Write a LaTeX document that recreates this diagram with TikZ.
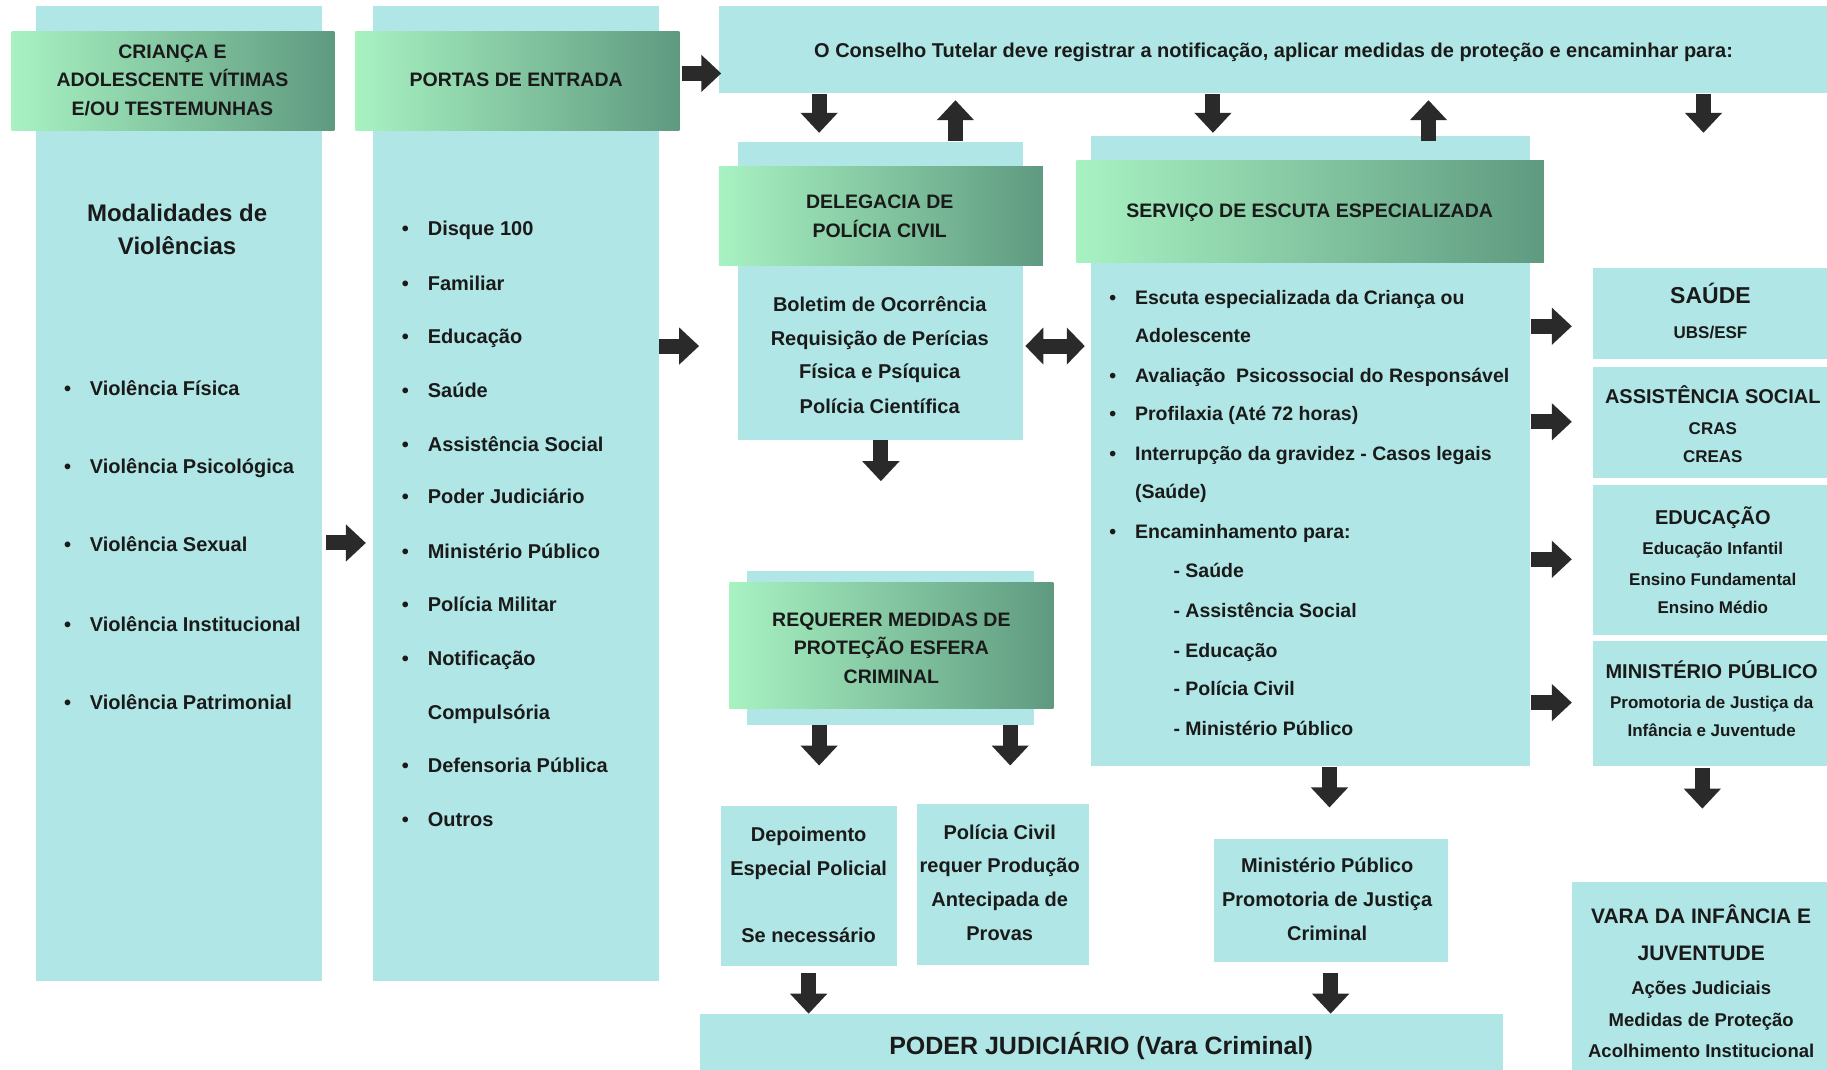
\documentclass[tikz,border=0pt]{standalone}
\usepackage{fontspec}
\setmainfont{Liberation Sans}
\usetikzlibrary{arrows.meta,fit}
\definecolor{boxc}{HTML}{B0E6E5}
\definecolor{hdrL}{HTML}{A8F2C2}
\definecolor{hdrR}{HTML}{5F9A80}
\definecolor{ink}{HTML}{1A1A1A}
\definecolor{arr}{HTML}{2A2A2A}
\newcommand\fs[2]{\fontsize{#1}{#2}\selectfont\bfseries}
\begin{document}
\begin{tikzpicture}[x=1.1652pt,y=-1.1652pt,
 box/.style={fill=boxc, inner sep=0pt, draw=none},
 hdr/.style={left color=hdrL, right color=hdrR, inner sep=0pt},
 txt/.style={inner sep=0pt, text=ink},
 t20/.style={txt, font=\fs{20}{24}, text height=14.3pt, text depth=0pt},
 t195/.style={txt, font=\fs{19.5}{24}, text height=14pt, text depth=0pt},
 t19/.style={txt, font=\fs{20}{24}, text height=14.3pt, text depth=0pt},
 t24/.style={txt, font=\fs{24}{28}, text height=17.2pt, text depth=0pt},
 t23/.style={txt, font=\fs{23}{28}, text height=16.5pt, text depth=0pt},
 t21/.style={txt, font=\fs{21}{26}, text height=15pt, text depth=0pt},
 t185/.style={txt, font=\fs{18.5}{22}, text height=13.2pt, text depth=0pt},
 t17/.style={txt, font=\fs{17}{21}, text height=12.2pt, text depth=0pt},
 t25/.style={txt, font=\fs{25}{30}, text height=17.9pt, text depth=0pt},
 barrow/.style={draw=arr, line width=15pt, -{Triangle[width=36pt,length=20pt]}},
 darrow/.style={draw=arr, line width=15pt, {Triangle[width=36pt,length=18pt]}-{Triangle[width=36pt,length=18pt]}},
]
\useasboundingbox (0,0) rectangle (1568,918);
\fill[white] (0,0) rectangle (1568,918);

% ---------- Column 1
\node[box, fit={(31,5)(276,842)}] (col1) {};
\node[hdr, fit={(10,27)(287,112)}] (h1) {};
\node[t195] (h1a) at (148,44) {CRIANÇA E};
\node[t195] (h1b) at (148,68) {ADOLESCENTE VÍTIMAS};
\node[t195] (h1c) at (148,93) {E/OU TESTEMUNHAS};
\node[t24] (mod1) at (152,183) {Modalidades de};
\node[t24] (mod2) at (152,211) {Violências};
\foreach \t/\y [count=\i] in {Violência Física/333, Violência Psicológica/400, Violência Sexual/467, Violência Institucional/536, Violência Patrimonial/603}{
  \node[t20] (vb\i) at (58,\y) {•};
  \node[t20, anchor=west] (vt\i) at (77,\y) {\t};
}

% ---------- Column 2
\node[box, fit={(320,5)(566,842)}] (col2) {};
\node[hdr, fit={(305,27)(583,112)}] (h2) {};
\node[t195] (h2a) at (443,68) {PORTAS DE ENTRADA};
\foreach \t/\y [count=\i] in {Disque 100/196, Familiar/243, Educação/289, Saúde/335, Assistência Social/381, Poder Judiciário/426, Ministério Público/473, Polícia Militar/519, Notificação/565, Defensoria Pública/657, Outros/703}{
  \node[t20] (pb\i) at (348,\y) {•};
  \node[t20, anchor=west] (pt\i) at (367,\y) {\t};
}
\node[t20, anchor=west] (ptc) at (367,611) {Compulsória};

% ---------- Conselho Tutelar
\node[box, fit={(617,5)(1568,80)}] (cons) {};
\node[t19] (consT) at (1093,43) {O Conselho Tutelar deve registrar a notificação, aplicar medidas de proteção e encaminhar para:};

% ---------- Delegacia
\node[box, fit={(633,122)(878,378)}] (del) {};
\node[hdr, fit={(617,143)(895,228)}] (delH) {};
\node[t195] (delHa) at (755,173) {DELEGACIA DE};
\node[t195] (delHb) at (755,198) {POLÍCIA CIVIL};
\node[t20] (d1) at (755,261) {Boletim de Ocorrência};
\node[t20] (d2) at (755,290) {Requisição de Perícias};
\node[t20] (d3) at (755,319) {Física e Psíquica};
\node[t20] (d4) at (755,349) {Polícia Científica};

% ---------- Serviço de Escuta
\node[box, fit={(936,117)(1313,657)}] (ser) {};
\node[hdr, fit={(924,138)(1325,225)}] (serH) {};
\node[t195] (serHa) at (1124,181) {SERVIÇO DE ESCUTA ESPECIALIZADA};
\foreach \y in {255,322,355,389,456}{
  \node[t195] (sb\y) at (955,\y) {•};
}
\node[t195, anchor=west] (s1) at (974,255) {Escuta especializada da Criança ou};
\node[t195, anchor=west] (s2) at (974,288) {Adolescente};
\node[t195, anchor=west] (s3) at (974,322) {Avaliação\ \ Psicossocial do Responsável};
\node[t195, anchor=west] (s4) at (974,355) {Profilaxia (Até 72 horas)};
\node[t195, anchor=west] (s5) at (974,389) {Interrupção da gravidez - Casos legais};
\node[t195, anchor=west] (s6) at (974,422) {(Saúde)};
\node[t195, anchor=west] (s7) at (974,456) {Encaminhamento para:};
\node[t195, anchor=west] (s8) at (1007,490) {- Saúde};
\node[t195, anchor=west] (s9) at (1007,524) {- Assistência Social};
\node[t195, anchor=west] (s10) at (1007,558) {- Educação};
\node[t195, anchor=west] (s11) at (1007,591) {- Polícia Civil};
\node[t195, anchor=west] (s12) at (1007,625) {- Ministério Público};

% ---------- Right column
\node[box, fit={(1367,230)(1568,308)}] (sau) {};
\node[t23] (sau1) at (1468,253) {SAÚDE};
\node[t17] (sau2) at (1468,285) {UBS/ESF};

\node[box, fit={(1367,315)(1568,410)}] (ass) {};
\node[t20] (ass1) at (1470,340) {ASSISTÊNCIA SOCIAL};
\node[t17] (ass2) at (1470,368) {CRAS};
\node[t17] (ass3) at (1470,392) {CREAS};

\node[box, fit={(1367,416)(1568,545)}] (edu) {};
\node[t20] (edu1) at (1470,444) {EDUCAÇÃO};
\node[t17] (edu2) at (1470,471) {Educação Infantil};
\node[t17] (edu3) at (1470,497) {Ensino Fundamental};
\node[t17] (edu4) at (1470,521) {Ensino Médio};

\node[box, fit={(1367,550)(1568,657)}] (mp) {};
\node[t20] (mp1) at (1469,576) {MINISTÉRIO PÚBLICO};
\node[t17] (mp2) at (1469,603) {Promotoria de Justiça da};
\node[t17] (mp3) at (1469,627) {Infância e Juventude};

\node[box, fit={(1349,757)(1568,918)}] (vara) {};
\node[t21] (va1) at (1460,786) {VARA DA INFÂNCIA E};
\node[t21] (va2) at (1460,818) {JUVENTUDE};
\node[t185] (va3) at (1460,848) {Ações Judiciais};
\node[t185] (va4) at (1460,875) {Medidas de Proteção};
\node[t185] (va5) at (1460,902) {Acolhimento Institucional};

% ---------- Requerer medidas
\node[box, fit={(641,490)(887,622)}] (req) {};
\node[hdr, fit={(626,500)(904,608)}] (reqH) {};
\node[t195] (reqHa) at (765,532) {REQUERER MEDIDAS DE};
\node[t195] (reqHb) at (765,556) {PROTEÇÃO ESFERA};
\node[t195] (reqHc) at (765,581) {CRIMINAL};

% ---------- Lower boxes
\node[box, fit={(619,692)(770,829)}] (dep) {};
\node[t20] (dep1) at (694,716) {Depoimento};
\node[t20] (dep2) at (694,745) {Especial Policial};
\node[t20] (dep3) at (694,803) {Se necessário};

\node[box, fit={(787,690)(935,828)}] (pc) {};
\node[t20] (pc1) at (858,714) {Polícia Civil};
\node[t20] (pc2) at (858,743) {requer Produção};
\node[t20] (pc3) at (858,772) {Antecipada de};
\node[t20] (pc4) at (858,801) {Provas};

\node[box, fit={(1042,720)(1243,826)}] (mpc) {};
\node[t20] (mpc1) at (1139,743) {Ministério Público};
\node[t20] (mpc2) at (1139,772) {Promotoria de Justiça};
\node[t20] (mpc3) at (1139,801) {Criminal};

\node[box, fit={(601,870)(1290,918)}] (pj) {};
\node[t25] (pjT) at (945,897) {PODER JUDICIÁRIO (Vara Criminal)};

% ---------- Arrows
\coordinate (a1s) at (280,466); \coordinate (a1e) at (314,466);
\coordinate (a2s) at (585,63);  \coordinate (a2e) at (619,63);
\coordinate (a3s) at (566,297); \coordinate (a3e) at (600,297);
\coordinate (c1s) at (703,81);  \coordinate (c1e) at (703,114);
\coordinate (c2s) at (820,121); \coordinate (c2e) at (820,86);
\coordinate (c3s) at (1041,81); \coordinate (c3e) at (1041,114);
\coordinate (c4s) at (1226,121);\coordinate (c4e) at (1226,86);
\coordinate (c5s) at (1462,81); \coordinate (c5e) at (1462,114);
\coordinate (dls) at (756,378); \coordinate (dle) at (756,413);
\coordinate (dbl1) at (880,297); \coordinate (dbl2) at (931,297);
\foreach \y [count=\i] in {280,362,480,603}{
  \coordinate (rs\i) at (1314,\y); \coordinate (re\i) at (1349,\y);
  \draw[barrow] (rs\i) -- (re\i);
}
\coordinate (mps) at (1461,659); \coordinate (mpe) at (1461,694);
\coordinate (r1s) at (703,622); \coordinate (r1e) at (703,657);
\coordinate (r2s) at (867,622); \coordinate (r2e) at (867,657);
\coordinate (svs) at (1141,658); \coordinate (sve) at (1141,693);
\coordinate (dps) at (694,835); \coordinate (dpe) at (694,870);
\coordinate (mcs) at (1142,835); \coordinate (mce) at (1142,870);

\draw[barrow] (a1s) -- (a1e);
\draw[barrow] (a2s) -- (a2e);
\draw[barrow] (a3s) -- (a3e);
\draw[barrow] (c1s) -- (c1e);
\draw[barrow] (c2s) -- (c2e);
\draw[barrow] (c3s) -- (c3e);
\draw[barrow] (c4s) -- (c4e);
\draw[barrow] (c5s) -- (c5e);
\draw[barrow] (dls) -- (dle);
\draw[darrow] (dbl1) -- (dbl2);
\draw[barrow] (mps) -- (mpe);
\draw[barrow] (r1s) -- (r1e);
\draw[barrow] (r2s) -- (r2e);
\draw[barrow] (svs) -- (sve);
\draw[barrow] (dps) -- (dpe);
\draw[barrow] (mcs) -- (mce);
\end{tikzpicture}
\end{document}
